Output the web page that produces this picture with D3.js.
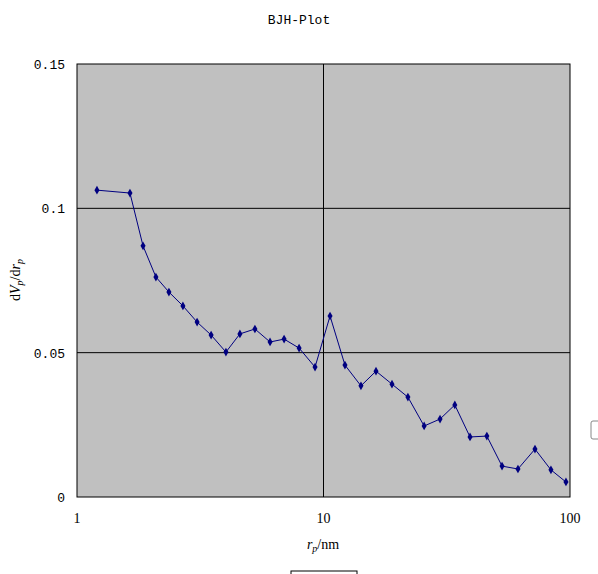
<!DOCTYPE html>
<html><head><meta charset="utf-8">
<script src="https://cdn.jsdelivr.net/npm/d3@7"></script>
<style>body{margin:0;background:#fff}</style></head>
<body><svg id="c" width="598" height="574"></svg>
<script>
const poreRadius=[1.205,1.64,1.853,2.09,2.36,2.69,3.07,3.50,4.02,4.58,5.27,6.07,6.92,7.96,9.24,10.63,12.22,14.19,16.33,18.96,22.0,25.6,29.7,34.1,39.3,46.0,53.0,61.5,72.1,83.7,96.3];
const dVdr=[0.1063,0.1053,0.0870,0.0762,0.0710,0.0662,0.0606,0.0561,0.0502,0.0565,0.0582,0.0537,0.0547,0.0516,0.0450,0.0627,0.0457,0.0385,0.0436,0.0391,0.0346,0.0246,0.0270,0.0319,0.0208,0.0211,0.0107,0.0097,0.0166,0.0094,0.0052];
const xTicks=[1,10,100];
const yTicks=[0,0.05,0.1,0.15];
const yTickLabels=["0","0.05","0.1","0.15"];

const svg=d3.select("#c");
const L=77,R=570,T=64,B=497;
const x=d3.scaleLog().domain([1,100]).range([L,R]);
const y=d3.scaleLinear().domain([0,0.15]).range([B,T]);
svg.append("rect").attr("x",L).attr("y",T).attr("width",R-L).attr("height",B-T).attr("fill","#c0c0c0");
svg.append("g").selectAll("line").data(yTicks.slice(1,3)).join("line")
 .attr("x1",L).attr("x2",R).attr("y1",d=>y(d)).attr("y2",d=>y(d)).attr("stroke","#000");
svg.append("line").attr("x1",x(10)).attr("x2",x(10)).attr("y1",T).attr("y2",B).attr("stroke","#000");
svg.append("rect").attr("x",L).attr("y",T).attr("width",R-L).attr("height",B-T).attr("fill","none").attr("stroke","#000");
const mono="'Liberation Mono','DejaVu Sans Mono',monospace";
svg.append("g").selectAll("text").data(yTicks).join("text")
 .attr("x",L-12).attr("y",d=>y(d)+5).attr("text-anchor","end").attr("font-family",mono).attr("font-size",13)
 .text((d,i)=>yTickLabels[i]);
svg.append("g").selectAll("text").data(xTicks).join("text")
 .attr("x",d=>x(d)).attr("y",B+26).attr("text-anchor","middle").attr("font-family","'Liberation Serif',serif").attr("font-size",14)
 .text(d=>d);
svg.append("text").attr("x",299).attr("y",24).attr("text-anchor","middle").attr("font-family",mono).attr("font-size",13).text("BJH-Plot");
const xl=svg.append("text").attr("x",323).attr("y",549).attr("text-anchor","middle").attr("font-family","'Liberation Serif',serif").attr("font-size",14);
xl.append("tspan").attr("font-style","italic").text("r");
xl.append("tspan").attr("font-style","italic").attr("font-size",10).attr("dy",3).text("p");
xl.append("tspan").attr("dy",-3).text("/nm");
const yl=svg.append("text").attr("transform","translate(20,280) rotate(-90)").attr("text-anchor","middle").attr("font-family","'Liberation Serif',serif").attr("font-size",14);
yl.append("tspan").text("d");
yl.append("tspan").attr("font-style","italic").text("V");
yl.append("tspan").attr("font-style","italic").attr("font-size",10).attr("dy",3).text("p");
yl.append("tspan").attr("dy",-3).text("/d");
yl.append("tspan").attr("font-style","italic").text("r");
yl.append("tspan").attr("font-style","italic").attr("font-size",10).attr("dy",3).text("p");
const pts=poreRadius.map((r,i)=>[r,dVdr[i]]);
svg.append("path").datum(pts).attr("fill","none").attr("stroke","#000080").attr("stroke-width",1)
 .attr("d",d3.line().x(d=>x(d[0])).y(d=>y(d[1])));
svg.append("g").selectAll("path").data(pts).join("path")
 .attr("transform",d=>`translate(${x(d[0])},${y(d[1])})`)
 .attr("d",d3.symbol(d3.symbolDiamond,22)).attr("fill","#000080");
svg.append("rect").attr("x",591).attr("y",421).attr("width",12).attr("height",18).attr("rx",2).attr("fill","#fff").attr("stroke","#888");
svg.append("rect").attr("x",291).attr("y",571).attr("width",66).attr("height",10).attr("fill","#fff").attr("stroke","#000");
</script></body></html>
